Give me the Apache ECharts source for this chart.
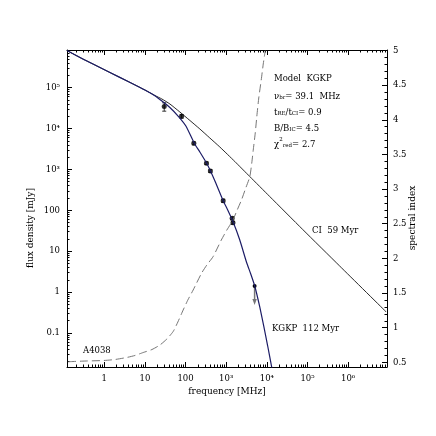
<!DOCTYPE html>
<html>
<head>
<meta charset="utf-8">
<script src="https://cdn.jsdelivr.net/npm/echarts@6/dist/echarts.min.js"></script>
<style>
  html, body { margin: 0; padding: 0; background: #fff; }
  #chart { width: 436px; height: 436px; }
</style>
</head>
<body>
<div id="chart"></div>
<script>
// observed spectrum of A4038 (frequency in MHz, flux density in mJy)
const obsFreq = [29.9, 80, 160, 327, 408, 843, 1400, 1470];
const obsFlux = [34500, 19800, 4340, 1420, 914, 172, 63.7, 49.8];
const obsErr = [8000, 2000, 350, 100, 70, 15, 5, 4];
const limitFreq = [5000];
const limitFlux = [1.41];

// CI model, 59 Myr
const ciFreq = [0.121, 0.253, 0.591, 1.38, 3.98, 10.0, 17.6, 26.2, 41.2, 72.4, 128, 225, 395, 697, 1630, 3800, 11800, 76200, 618000, 8.69e6];
const ciFlux = [807000, 544000, 357000, 234000, 139000, 87400, 64100, 52600, 39700, 25300, 15700, 9730, 5870, 3530, 1560, 670, 217, 34.0, 4.35, 0.326];

// KGKP model, 112 Myr
const kgkpFreq = [0.121, 0.253, 0.591, 1.38, 3.98, 10.0, 17.6, 26.2, 41.2, 67.3, 102, 163, 225, 328, 411, 555, 839, 1090, 1450, 2160, 3150, 4020, 5040, 6700, 8400, 10500, 13200, 15200];
const kgkpFlux = [807000, 544000, 357000, 234000, 139000, 87400, 63100, 47000, 32600, 19600, 11500, 4420, 2660, 1430, 914, 465, 174, 102, 54.7, 18.8, 5.45, 2.77, 1.41, 0.433, 0.148, 0.0481, 0.0145, 0.0071];

// spectral index of the KGKP model (right axis)
const alphaFreq = [0.128, 0.336, 0.98, 1.83, 3.55, 5.68, 9.09, 14.9, 23.4, 34.7, 49.6, 64.7, 87.3, 114, 154, 247, 334, 476, 758, 1040, 1450, 1820, 2380, 3030, 3800, 4260, 4630, 5190, 5650, 6330, 7280, 8160, 9140];
const alphaVal = [0.509, 0.519, 0.527, 0.541, 0.570, 0.599, 0.642, 0.685, 0.750, 0.837, 0.945, 1.082, 1.255, 1.400, 1.544, 1.785, 1.905, 2.025, 2.265, 2.410, 2.547, 2.684, 2.843, 3.016, 3.175, 3.377, 3.564, 3.810, 4.040, 4.315, 4.574, 4.805, 5.0];

// ticks
const xTickExp = [0, 1, 2, 3, 4, 5, 6];
const xTickLabels = ['1', '10', '100', '10³', '10⁴', '10⁵', '10⁶'];
const yTickExp = [-1, 0, 1, 2, 3, 4, 5];
const yTickLabels = ['0.1', '1', '10', '100', '10³', '10⁴', '10⁵'];
const alphaTicks = [0.5, 1, 1.5, 2, 2.5, 3, 3.5, 4, 4.5, 5];
const alphaTickLabels = ['0.5', '1', '1.5', '2', '2.5', '3', '3.5', '4', '4.5', '5'];

const xMin = -0.916, xMax = 6.956;   // log10 MHz
const yMin = -1.831, yMax = 5.919;   // log10 mJy
const aMin = 0.433, aMax = 5.007;

const FONT = 'DejaVu Serif';
const lg = Math.log10;

function minorLog(lo, hi) {
  const out = [];
  for (let e = Math.floor(lo) - 1; e <= Math.ceil(hi); e++) {
    for (let k = 2; k <= 9; k++) {
      const v = lg(k) + e;
      if (v > lo && v < hi) out.push(v);
    }
  }
  return out;
}
const xMinor = minorLog(xMin, xMax);
const yMinor = minorLog(yMin, yMax);
const aMinor = [];
for (let i = 5; i <= 50; i++) if (i % 5 !== 0) aMinor.push(i / 10);

const ciData = ciFreq.map((f, i) => [lg(f), lg(ciFlux[i])]);
const kgkpData = kgkpFreq.map((f, i) => [lg(f), lg(kgkpFlux[i])]);
const alphaData = alphaFreq.map((f, i) => [lg(f), alphaVal[i]]);
const obsData = obsFreq.map((f, i) => [lg(f), lg(obsFlux[i])]);
const errData = obsFreq.map((f, i) => [lg(f), lg(obsFlux[i] - obsErr[i]), lg(obsFlux[i] + obsErr[i])]);
const limitData = limitFreq.map((f, i) => [lg(f), lg(limitFlux[i])]);

const labelStyle = { color: '#000', fontFamily: FONT, fontSize: 8.5 };
const lineBlack = { show: true, onZero: false, lineStyle: { color: '#000', width: 1 } };
const noLine = { show: false, onZero: false };

function xAx(pos, major, showLine) {
  return {
    type: 'value', min: xMin, max: xMax, position: pos,
    axisLine: showLine ? lineBlack : noLine,
    splitLine: { show: false },
    axisTick: { show: true, inside: true, length: major ? 5 : 2.5,
      customValues: major ? xTickExp : xMinor, lineStyle: { color: '#000', width: 1 } },
    axisLabel: (major && pos === 'bottom') ? Object.assign({
      show: true, customValues: xTickExp, margin: 7,
      formatter: v => xTickLabels[xTickExp.indexOf(Math.round(v))]
    }, labelStyle) : { show: false }
  };
}

const option = {
  animation: false,
  backgroundColor: '#fff',
  grid: { left: 67, right: 49, top: 50, bottom: 69 },
  xAxis: [xAx('bottom', true, true), xAx('bottom', false, false), xAx('top', true, true), xAx('top', false, false)],
  yAxis: [
    {
      type: 'value', min: yMin, max: yMax, position: 'left',
      axisLine: lineBlack, splitLine: { show: false },
      axisTick: { show: true, inside: true, length: 5, customValues: yTickExp, lineStyle: { color: '#000' } },
      axisLabel: Object.assign({ show: true, customValues: yTickExp, margin: 7,
        formatter: v => yTickLabels[yTickExp.indexOf(Math.round(v))] }, labelStyle)
    },
    {
      type: 'value', min: yMin, max: yMax, position: 'left',
      axisLine: noLine, splitLine: { show: false },
      axisTick: { show: true, inside: true, length: 2.5, customValues: yMinor, lineStyle: { color: '#000' } },
      axisLabel: { show: false }
    },
    {
      type: 'value', min: aMin, max: aMax, position: 'right',
      axisLine: lineBlack, splitLine: { show: false },
      axisTick: { show: true, inside: true, length: 5, customValues: alphaTicks, lineStyle: { color: '#000' } },
      axisLabel: Object.assign({ show: true, customValues: alphaTicks, margin: 6,
        formatter: v => alphaTickLabels[alphaTicks.indexOf(Math.round(v * 10) / 10)] }, labelStyle)
    },
    {
      type: 'value', min: aMin, max: aMax, position: 'right',
      axisLine: noLine, splitLine: { show: false },
      axisTick: { show: true, inside: true, length: 2.5, customValues: aMinor, lineStyle: { color: '#000' } },
      axisLabel: { show: false }
    }
  ],
  series: [
    {
      name: 'alpha', type: 'line', xAxisIndex: 0, yAxisIndex: 2, data: alphaData,
      symbol: 'none', smooth: 0.2,
      lineStyle: { color: '#666', width: 0.9, type: [8, 4] }
    },
    {
      name: 'CI', type: 'line', xAxisIndex: 0, yAxisIndex: 0, data: ciData,
      symbol: 'none', smooth: 0.2,
      lineStyle: { color: '#111', width: 0.9 }
    },
    {
      name: 'KGKP', type: 'line', xAxisIndex: 0, yAxisIndex: 0, data: kgkpData,
      symbol: 'none', smooth: 0.2,
      lineStyle: { color: '#1c1c66', width: 1.2 }
    },
    {
      name: 'err', type: 'custom', xAxisIndex: 0, yAxisIndex: 0, data: errData,
      encode: { x: 0, y: [1, 2] },
      renderItem: function (params, api) {
        const x = api.value(0);
        const a = api.coord([x, api.value(1)]);
        const b = api.coord([x, api.value(2)]);
        const st = { stroke: '#333', lineWidth: 1 };
        return { type: 'group', children: [
          { type: 'line', shape: { x1: a[0], y1: a[1], x2: b[0], y2: b[1] }, style: st },
          { type: 'line', shape: { x1: a[0] - 2, y1: a[1], x2: a[0] + 2, y2: a[1] }, style: st },
          { type: 'line', shape: { x1: b[0] - 2, y1: b[1], x2: b[0] + 2, y2: b[1] }, style: st }
        ] };
      }
    },
    {
      name: 'obs', type: 'scatter', xAxisIndex: 0, yAxisIndex: 0, data: obsData,
      symbol: 'circle', symbolSize: 5, itemStyle: { color: '#000' }
    },
    {
      name: 'limit', type: 'custom', xAxisIndex: 0, yAxisIndex: 0, data: limitData,
      renderItem: function (params, api) {
        const p = api.coord([api.value(0), api.value(1)]);
        return { type: 'group', children: [
          { type: 'line', shape: { x1: p[0], y1: p[1], x2: p[0], y2: p[1] + 15 }, style: { stroke: '#777', lineWidth: 1.5 } },
          { type: 'polygon', shape: { points: [[p[0] - 2.2, p[1] + 13], [p[0] + 2.2, p[1] + 13], [p[0], p[1] + 19]] }, style: { fill: '#777' } },
          { type: 'circle', shape: { cx: p[0], cy: p[1], r: 2 }, style: { fill: '#000' } }
        ] };
      }
    }
  ],
  graphic: [
    { type: 'text', x: 31, y: 228, rotation: Math.PI / 2,
      style: { text: 'flux density [mJy]', fill: '#000', font: '9px "DejaVu Serif"', align: 'center', verticalAlign: 'middle' } },
    { type: 'text', x: 413, y: 218, rotation: Math.PI / 2,
      style: { text: 'spectral index', fill: '#000', font: '9px "DejaVu Serif"', align: 'center', verticalAlign: 'middle' } },
    { type: 'text', x: 227, y: 392,
      style: { text: 'frequency [MHz]', fill: '#000', font: '9px "DejaVu Serif"', align: 'center', verticalAlign: 'middle' } },
    { type: 'text', x: 312, y: 231,
      style: { text: 'CI  59 Myr', fill: '#000', font: '8.5px "DejaVu Serif"', verticalAlign: 'middle' } },
    { type: 'text', x: 272, y: 329,
      style: { text: 'KGKP  112 Myr', fill: '#000', font: '8.5px "DejaVu Serif"', verticalAlign: 'middle' } },
    { type: 'text', x: 83, y: 351,
      style: { text: 'A4038', fill: '#000', font: '8.5px "DejaVu Serif"', verticalAlign: 'middle' } },
    { type: 'text', x: 274, y: 79,
      style: { text: 'Model  KGKP', fill: '#000', font: '8.5px "DejaVu Serif"', verticalAlign: 'middle' } },
    { type: 'text', x: 274, y: 95,
      style: { text: '{m|ν}{s|br}{m|= 39.1  MHz}', verticalAlign: 'middle', rich: {
        m: { fontFamily: FONT, fontSize: 8.5, lineHeight: 12, verticalAlign: 'bottom', fill: '#000' },
        s: { fontFamily: FONT, fontSize: 5.5, lineHeight: 7, verticalAlign: 'bottom', fill: '#000' } } } },
    { type: 'text', x: 274, y: 111,
      style: { text: '{m|t}{s|RE}{m|/t}{s|CI}{m|= 0.9}', verticalAlign: 'middle', rich: {
        m: { fontFamily: FONT, fontSize: 8.5, lineHeight: 12, verticalAlign: 'bottom', fill: '#000' },
        s: { fontFamily: FONT, fontSize: 5.5, lineHeight: 7, verticalAlign: 'bottom', fill: '#000' } } } },
    { type: 'text', x: 274, y: 127,
      style: { text: '{m|B/B}{s|IC}{m|= 4.5}', verticalAlign: 'middle', rich: {
        m: { fontFamily: FONT, fontSize: 8.5, lineHeight: 12, verticalAlign: 'bottom', fill: '#000' },
        s: { fontFamily: FONT, fontSize: 5.5, lineHeight: 7, verticalAlign: 'bottom', fill: '#000' } } } },
    { type: 'text', x: 274, y: 143,
      style: { text: '{m|χ}{p|2}{s|red}{m|= 2.7}', verticalAlign: 'middle', rich: {
        m: { fontFamily: FONT, fontSize: 8.5, lineHeight: 12, verticalAlign: 'bottom', fill: '#000' },
        p: { fontFamily: FONT, fontSize: 5.5, lineHeight: 12, verticalAlign: 'top', fill: '#000' },
        s: { fontFamily: FONT, fontSize: 5.5, lineHeight: 7, verticalAlign: 'bottom', fill: '#000' } } } }
  ]
};

const myChart = echarts.init(document.getElementById('chart'));
myChart.setOption(option);
</script>
</body>
</html>
